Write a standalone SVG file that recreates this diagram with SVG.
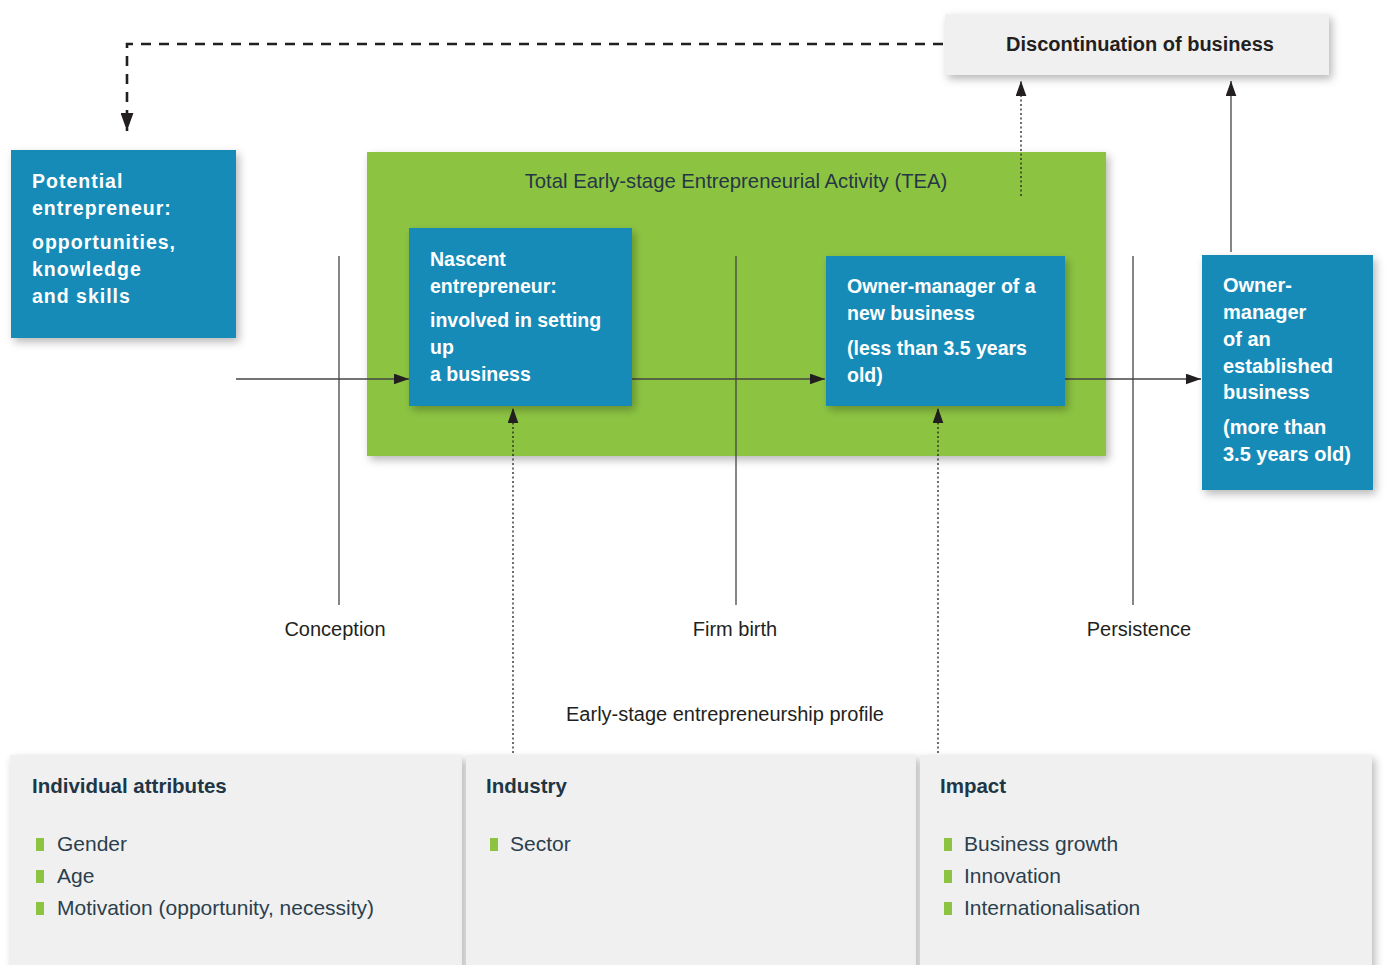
<svg xmlns="http://www.w3.org/2000/svg" width="1386" height="965" viewBox="0 0 1386 965">
<defs>
<filter id="sh" x="-10%" y="-10%" width="125%" height="130%">
<feDropShadow dx="3" dy="4" stdDeviation="4" flood-color="#000" flood-opacity="0.28"/>
</filter>
<marker id="ah" viewBox="0 0 14 10" refX="14" refY="5" markerWidth="15" markerHeight="11" markerUnits="userSpaceOnUse" orient="auto">
<path d="M0,0 L14,5 L0,10 Z" fill="#231f20"/>
</marker>
<marker id="ahb" viewBox="0 0 14 10" refX="14" refY="5" markerWidth="18" markerHeight="13" markerUnits="userSpaceOnUse" orient="auto">
<path d="M0,0 L14,5 L0,10 Z" fill="#231f20"/>
</marker>
</defs>
<style>
.blue{fill:#168bb8}
.grey{fill:#f0f0f0}
.wt{font-family:"Liberation Sans",Arial,sans-serif;font-weight:bold;font-size:19.5px;fill:#fff}
.lab{font-family:"Liberation Sans",Arial,sans-serif;font-size:20px;fill:#231f20}
.hd{font-family:"Liberation Sans",Arial,sans-serif;font-weight:bold;font-size:20.5px;fill:#1e3645}
.it{font-family:"Liberation Sans",Arial,sans-serif;font-size:21px;fill:#2b3f4d}
.bul{fill:#8cc442}
.ln{stroke:#444;stroke-width:1.3;fill:none}
.dot{stroke:#231f20;stroke-width:1.3;stroke-dasharray:2,2.5;fill:none}
</style>
<rect width="1386" height="965" fill="#fff"/>

<g id="tea">
<rect x="367" y="152" width="739" height="304" fill="#8cc442" filter="url(#sh)"/>
<text x="736" y="188" text-anchor="middle" class="lab" style="fill:#263646;font-size:20.3px">Total Early-stage Entrepreneurial Activity (TEA)</text>
</g>

<g id="axes">
<line class="ln" x1="339" y1="256" x2="339" y2="605"/>
<line class="ln" x1="736" y1="256" x2="736" y2="605"/>
<line class="ln" x1="1133" y1="256" x2="1133" y2="605"/>
<text class="lab" x="335" y="636" text-anchor="middle">Conception</text>
<text class="lab" x="735" y="636" text-anchor="middle">Firm birth</text>
<text class="lab" x="1139" y="636" text-anchor="middle">Persistence</text>
<text class="lab" x="725" y="721" text-anchor="middle">Early-stage entrepreneurship profile</text>
</g>

<g id="connectors">
<path d="M943,44 H127 V131" stroke="#231f20" stroke-width="2.6" stroke-dasharray="10,8" fill="none"/>
<line x1="127" y1="110" x2="127" y2="131" stroke="#231f20" stroke-width="0.1" marker-end="url(#ahb)"/>
<line class="ln" x1="236" y1="379" x2="409" y2="379" marker-end="url(#ah)"/>
<line class="ln" x1="632" y1="379" x2="825" y2="379" marker-end="url(#ah)"/>
<line class="ln" x1="1065" y1="379" x2="1201" y2="379" marker-end="url(#ah)"/>
<line class="dot" x1="513" y1="753" x2="513" y2="408" marker-end="url(#ah)"/>
<line class="dot" x1="938" y1="753" x2="938" y2="408" marker-end="url(#ah)"/>
<line class="dot" x1="1021" y1="196" x2="1021" y2="81" marker-end="url(#ah)"/>
<line class="ln" x1="1231" y1="252" x2="1231" y2="81" marker-end="url(#ah)"/>
</g>

<g id="discontinuation">
<rect class="grey" x="945" y="14" width="384" height="61" filter="url(#sh)"/>
<text class="hd" x="1140" y="51" text-anchor="middle" style="fill:#231f20;font-size:20px">Discontinuation of business</text>
</g>

<g id="potential">
<rect class="blue" x="11" y="150" width="225" height="188" filter="url(#sh)"/>
<text class="wt" style="letter-spacing:1px"><tspan x="32" y="188">Potential</tspan><tspan x="32" y="215">entrepreneur:</tspan><tspan x="32" y="249">opportunities,</tspan><tspan x="32" y="276">knowledge</tspan><tspan x="32" y="303">and skills</tspan></text>
</g>

<g id="nascent">
<rect class="blue" x="409" y="228" width="223" height="178" filter="url(#sh)"/>
<text class="wt"><tspan x="430" y="266">Nascent</tspan><tspan x="430" y="293">entrepreneur:</tspan><tspan x="430" y="327">involved in setting</tspan><tspan x="430" y="354">up</tspan><tspan x="430" y="381">a business</tspan></text>
</g>

<g id="newbusiness">
<rect class="blue" x="826" y="256" width="239" height="150" filter="url(#sh)"/>
<text class="wt"><tspan x="847" y="293">Owner-manager of a</tspan><tspan x="847" y="320">new business</tspan><tspan x="847" y="355">(less than 3.5 years</tspan><tspan x="847" y="382">old)</tspan></text>
</g>

<g id="established">
<rect class="blue" x="1202" y="255" width="171" height="235" filter="url(#sh)"/>
<text class="wt" style="font-size:20px"><tspan x="1223" y="292">Owner-</tspan><tspan x="1223" y="319">manager</tspan><tspan x="1223" y="346">of an</tspan><tspan x="1223" y="373">established</tspan><tspan x="1223" y="399">business</tspan><tspan x="1223" y="434">(more than</tspan><tspan x="1223" y="461">3.5 years old)</tspan></text>
</g>

<g id="individual">
<rect class="grey" x="10" y="755" width="452" height="220" filter="url(#sh)"/>
<text class="hd" x="32" y="793">Individual attributes</text>
<rect class="bul" x="36" y="838" width="8" height="13"/>
<text class="it" x="57" y="851">Gender</text>
<rect class="bul" x="36" y="870" width="8" height="13"/>
<text class="it" x="57" y="883">Age</text>
<rect class="bul" x="36" y="902" width="8" height="13"/>
<text class="it" x="57" y="915">Motivation (opportunity, necessity)</text>
</g>

<g id="industry">
<rect class="grey" x="466" y="755" width="450" height="220" filter="url(#sh)"/>
<text class="hd" x="486" y="793">Industry</text>
<rect class="bul" x="490" y="838" width="8" height="13"/>
<text class="it" x="510" y="851">Sector</text>
</g>

<g id="impact">
<rect class="grey" x="920" y="755" width="452" height="220" filter="url(#sh)"/>
<text class="hd" x="940" y="793">Impact</text>
<rect class="bul" x="944" y="838" width="8" height="13"/>
<text class="it" x="964" y="851">Business growth</text>
<rect class="bul" x="944" y="870" width="8" height="13"/>
<text class="it" x="964" y="883">Innovation</text>
<rect class="bul" x="944" y="902" width="8" height="13"/>
<text class="it" x="964" y="915">Internationalisation</text>
</g>
</svg>
